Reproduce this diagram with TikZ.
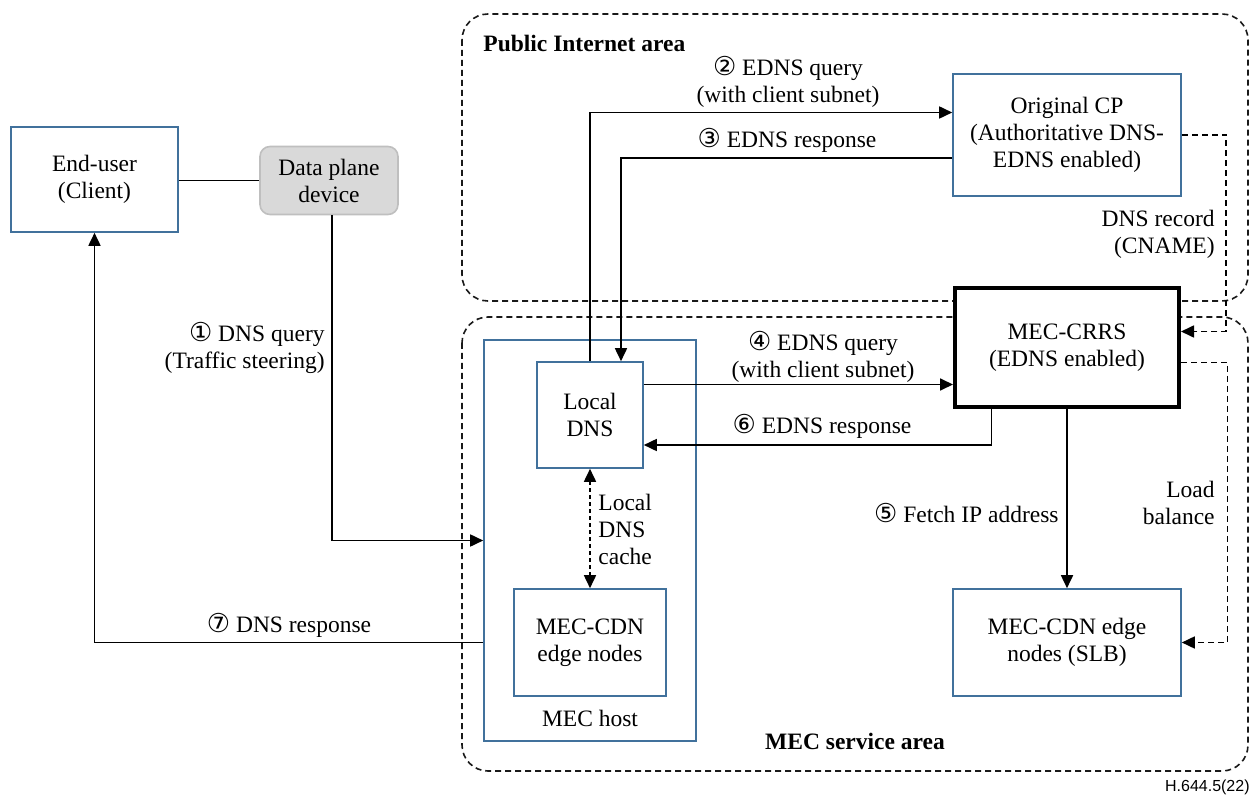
\documentclass[tikz,border=0pt]{standalone}
\usepackage{fontspec}
\setmainfont{Liberation Serif}
\newfontfamily\circfont{DejaVu Sans}
\newfontfamily\notefont{Liberation Sans}
\usetikzlibrary{arrows.meta}
\definecolor{boxblue}{HTML}{41719C}
\definecolor{devfill}{HTML}{D9D9D9}
\definecolor{devdraw}{HTML}{BFBFBF}
\newcommand\circnum[1]{{\circfont\fontsize{13}{13.5}\selectfont #1}}
\begin{document}
\begin{tikzpicture}[x=0.5pt,y=-0.5pt,
  font=\fontsize{11.75}{13.5}\selectfont,
  bluebox/.style={draw=boxblue, line width=0.8pt, align=center, inner sep=2pt, fill=white},
  devbox/.style={draw=devdraw, fill=devfill, line width=0.8pt, rounded corners=5pt, align=center, inner sep=2pt},
  crrsbox/.style={draw=black, line width=2pt, align=center, inner sep=2pt, fill=white},
  area/.style={draw=black!90, line width=0.8pt, dash pattern=on 3pt off 2pt, rounded corners=13pt},
  conn/.style={draw=black, line width=0.85pt},
  arr/.style={conn, -{Triangle[length=6.5pt,width=6pt]}},
  darr/.style={conn, dash pattern=on 3pt off 2pt, -{Triangle[length=6.5pt,width=6pt]}},
  cachearr/.style={conn, dash pattern=on 2pt off 1.5pt, {Triangle[length=6.5pt,width=6pt]}-{Triangle[length=6.5pt,width=6pt]}},
  lbl/.style={inner sep=0pt, align=center}
]
\useasboundingbox (0,0) rectangle (1252,796);

% areas
\draw[area] (462,14) rectangle (1248,301);
\draw[area] (462,317) rectangle (1248,771);
\node[lbl, anchor=west, font=\fontsize{11.75}{13.5}\selectfont\bfseries] (pubtitle) at (483,43.5) {Public Internet area};
\node[lbl, font=\fontsize{11.75}{13.5}\selectfont\bfseries] (mectitle) at (855,741.5) {MEC service area};

% MEC host frame
\node[draw=boxblue, line width=0.8pt, minimum width=106pt, minimum height=200.5pt, inner sep=0pt] (host) at (590,540.5) {};
\node[lbl] (hostlbl) at (590,718) {MEC host};

% boxes
\node[bluebox, minimum width=83.5pt, minimum height=52.5pt] (user) at (94.5,179.5) {End-user\\(Client)};
\node[devbox, minimum width=69pt, minimum height=34pt] (dpd) at (329,180.5) {Data plane\\device};
\node[bluebox, minimum width=114pt, minimum height=61pt] (ocp) at (1067,135) {Original CP\\(Authoritative DNS-\\EDNS enabled)};
\node[crrsbox, minimum width=112pt, minimum height=59pt] (crrs) at (1067,347.5) {MEC-CRRS\\(EDNS enabled)};
\node[bluebox, minimum width=114pt, minimum height=53.5pt] (slb) at (1067,642.5) {MEC-CDN edge\\nodes (SLB)};
\node[bluebox, minimum width=53pt, minimum height=53pt] (ldns) at (590,415) {Local\\DNS};
\node[bluebox, minimum width=76pt, minimum height=53.5pt] (cdn) at (590,642.5) {MEC-CDN\\edge nodes};

% connectors
\draw[conn] (user.east |- dpd.west) -- (dpd.west);
\draw[arr] ([xshift=1.5pt]dpd.south) |- (host.west);
\draw[arr] ([yshift=-51pt]host.west) -| (user.south);
\draw[arr] (ldns.north) |- ([yshift=11.25pt]ocp.west);
\draw[arr] ([yshift=-11.5pt]ocp.west) -| ([xshift=15.5pt]ldns.north);
\coordinate (p4) at ([yshift=15.25pt]ldns.east);
\draw[arr] (p4) -- (p4 -| crrs.west);
\coordinate (p6) at ([yshift=-15pt]ldns.east);
\draw[arr] ([xshift=-37.75pt]crrs.south) |- (p6);
\draw[arr] (crrs.south) -- (slb.north);
\draw[cachearr] (ldns.south) -- (cdn.north);
\coordinate (cnbend) at ([xshift=22.25pt]ocp.east);
\draw[darr] (ocp.east) -- (cnbend) |- ([yshift=8pt]crrs.east);
\coordinate (lbbend) at ([xshift=23.25pt,yshift=-7.5pt]crrs.east);
\draw[darr] ([yshift=-7.5pt]crrs.east) -- (lbbend) |- (slb.east);

% labels
\node[lbl, anchor=east, align=right] (l1) at (325,347.5) {\circnum{①} DNS query\\(Traffic steering)};
\node[lbl] (l2) at (788,81.5) {\circnum{②} EDNS query\\(with client subnet)};
\node[lbl] (l3) at (787,140) {\circnum{③} EDNS response};
\node[lbl] (l4) at (823,356.5) {\circnum{④} EDNS query\\(with client subnet)};
\node[lbl, anchor=east] (l5) at (1059,513) {\circnum{⑤} Fetch IP address};
\node[lbl] (l6) at (822,426) {\circnum{⑥} EDNS response};
\node[lbl] (l7) at (289,625) {\circnum{⑦} DNS response};
\node[lbl, anchor=east, align=right] (lcname) at (1215,234.5) {DNS record\\(CNAME)};
\node[lbl, anchor=east, align=right] (lload) at (1215,503) {Load\\balance};
\node[lbl, anchor=west, align=left] (lcache) at (598,529.5) {Local\\DNS\\cache};
\node[lbl, anchor=east, font=\notefont\fontsize{8}{9.5}\selectfont] (fignum) at (1250,787) {H.644.5(22)};
\end{tikzpicture}
\end{document}
